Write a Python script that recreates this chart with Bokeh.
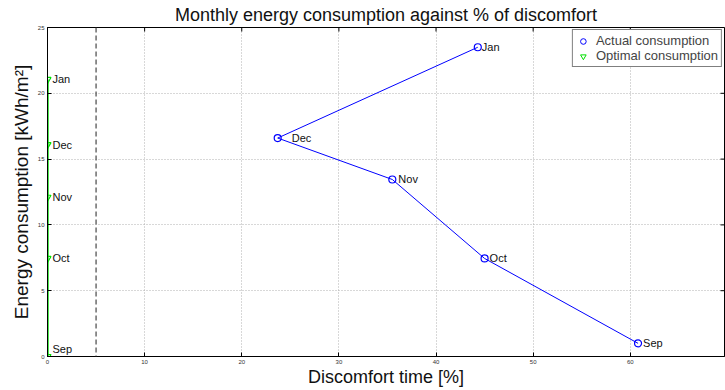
from bokeh.plotting import figure
from bokeh.models import ColumnDataSource, Span, FixedTicker, Range1d, Legend, LegendItem
from bokeh.core.properties import value
from bokeh.embed import file_html
from bokeh.resources import INLINE

# Monthly data, September to January
months = ["Sep", "Oct", "Nov", "Dec", "Jan"]
actual_discomfort = [60.8, 45.0, 35.5, 23.7, 44.3]
actual_energy = [1.0, 7.45, 13.45, 16.6, 23.5]
optimal_discomfort = [0.0, 0.0, 0.0, 0.0, 0.0]
optimal_energy = [0.0, 7.45, 12.1, 16.1, 21.05]
comfort_limit = 5.0

x_ticks = [0, 10, 20, 30, 40, 50, 60, 70]
y_ticks = [0, 5, 10, 15, 20, 25]

X_MAX = 69.7
Y_MAX = 25

FONT = "Liberation Sans"

p = figure(width=725, height=390, output_backend="svg", toolbar_location=None,
           x_range=Range1d(0, X_MAX), y_range=Range1d(0, Y_MAX),
           min_border_left=47, min_border_right=1, min_border_top=27, min_border_bottom=34,
           title="Monthly energy consumption against % of discomfort")

p.title.text_font = FONT
p.title.text_font_size = "18px"
p.title.text_font_style = "normal"
p.title.text_color = "#111111"
p.title.align = "center"
p.title.offset = 0
p.title.standoff = 5

p.outline_line_color = "black"
p.background_fill_color = "white"
p.border_fill_color = "white"

for ax in (p.xaxis[0], p.yaxis[0]):
    ax.major_tick_in = 4
    ax.major_tick_out = 0
    ax.minor_tick_line_color = None
    ax.axis_line_color = "black"
    ax.major_tick_line_color = "black"
    ax.major_label_text_font = FONT
    ax.major_label_text_font_size = "6px"
    ax.major_label_text_color = "#333333"
    ax.axis_label_text_font = FONT
    ax.axis_label_text_font_style = "normal"
    ax.axis_label_text_color = "#111111"
    ax.major_label_standoff = 3

p.xaxis[0].axis_label_text_font_size = "18px"
p.yaxis[0].axis_label_text_font_size = "19px"
p.xaxis[0].ticker = FixedTicker(ticks=x_ticks)
p.yaxis[0].ticker = FixedTicker(ticks=y_ticks)
p.xaxis[0].axis_label = "Discomfort time [%]"
p.yaxis[0].axis_label = "Energy consumption [kWh/m²]"
p.xaxis[0].axis_label_standoff = 0
p.yaxis[0].axis_label_standoff = 3

p.xgrid[0].ticker = FixedTicker(ticks=x_ticks)
p.ygrid[0].ticker = FixedTicker(ticks=y_ticks)
for g in (p.xgrid[0], p.ygrid[0]):
    g.grid_line_color = "#b0b0b0"
    g.grid_line_dash = "1 2"
    g.grid_line_width = 1

# Mirrored inward ticks on the top and right edges of the box
# (dash markers centred on the border; the outer half is clipped by the frame)
p.scatter(x_ticks, [Y_MAX] * len(x_ticks), marker="dash", angle=1.5708, size=8,
          line_color="black", line_width=1)
p.scatter([X_MAX] * len(y_ticks), y_ticks, marker="dash", size=8,
          line_color="black", line_width=1)

# Comfort threshold
p.add_layout(Span(location=comfort_limit, dimension="height", line_color="#555555",
                  line_dash="5 3", line_width=1.3))

act = ColumnDataSource(dict(x=actual_discomfort, y=actual_energy, m=months,
                            dx=[5, 5, 6, 14, 4]))
opt = ColumnDataSource(dict(x=optimal_discomfort, y=optimal_energy, m=months,
                            dy=[-8, 0, 0, 0, 0]))

p.line("x", "y", source=act, line_color="blue", line_width=1)
p.scatter("x", "y", source=act, marker="circle", size=7, fill_color=None,
          line_color="blue", line_width=1.2)
p.line("x", "y", source=opt, line_color="#00e000", line_width=2.4)
p.scatter("x", "y", source=opt, marker="inverted_triangle", size=7, fill_color=None,
          line_color="#00e000", line_width=1.2)

p.text("x", "y", text="m", source=act, x_offset="dx", text_baseline="middle",
       text_font=value(FONT), text_font_size="11px", text_color="#111111")
p.text("x", "y", text="m", source=opt, x_offset=5, y_offset="dy", text_baseline="middle",
       text_font=value(FONT), text_font_size="11px", text_color="#111111")

# Legend glyphs drawn smaller than the data markers
l_act = p.scatter([-10], [-10], marker="circle", size=5, fill_color=None, line_color="blue")
l_opt = p.scatter([-10], [-10], marker="inverted_triangle", size=5, fill_color=None,
                  line_color="#00e000")

legend = Legend(items=[LegendItem(label="Actual consumption", renderers=[l_act]),
                       LegendItem(label="Optimal consumption", renderers=[l_opt])],
                location="top_right", margin=2, padding=3, spacing=0,
                label_text_font=FONT, label_text_font_size="13px",
                label_height=14, glyph_height=14, glyph_width=14, label_standoff=6,
                border_line_color="black", border_line_width=1,
                background_fill_alpha=1)
p.add_layout(legend)

open("out.html", "w").write(file_html(p, INLINE))
